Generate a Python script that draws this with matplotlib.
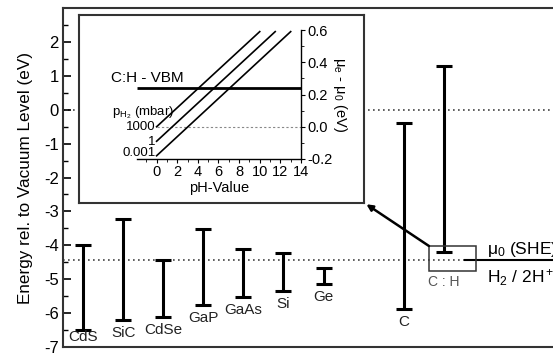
import matplotlib
matplotlib.use('Agg')
import matplotlib.pyplot as plt
from matplotlib.ticker import MultipleLocator
from matplotlib.patches import Rectangle

plt.rcParams['font.family'] = ['Liberation Sans', 'DejaVu Sans']
plt.rcParams['mathtext.fontset'] = 'custom'
plt.rcParams['mathtext.rm'] = 'Liberation Sans'
plt.rcParams['mathtext.it'] = 'Liberation Sans:italic'
plt.rcParams['mathtext.default'] = 'regular'

# ---- data ----
materials = ['CdS', 'SiC', 'CdSe', 'GaP', 'GaAs', 'Si', 'Ge', 'C', 'C:H']
cb_edge = [-4.0, -3.23, -4.42, -3.52, -4.11, -4.23, -4.67, -0.40, 1.28]
vb_edge = [-6.5, -6.2, -6.11, -5.76, -5.52, -5.35, -5.14, -5.88, -4.2]
she_level = -4.44
vacuum_level = 0.0
energy_ticks = [-7, -6, -5, -4, -3, -2, -1, 0, 1, 2, 3]
energy_ticklabels = ['-7', '-6', '-5', '-4', '-3', '-2', '-1', '0', '1', '2', '']

# inset: electrochemical potential vs pH for several H2 pressures
pressure_labels = ['1000', '1', '0.001']
ph_start = [0.0, 0.0, 0.0]
ph_end = [10.0, 11.5, 13.0]
mu_start = [0.0, -0.09, -0.18]
mu_end = [0.59, 0.59, 0.59]
vbm_level = 0.24
ph_ticks = [0, 2, 4, 6, 8, 10, 12, 14]
mu_ticks = [-0.2, 0.0, 0.2, 0.4, 0.6]
mu_ticklabels = ['-0.2', '0.0', '0.2', '0.4', '0.6']

# ---- layout ----
xpos = [0, 1, 2, 3, 4, 5, 6, 8, 9]
W, H = 553, 354
fig = plt.figure(figsize=(W / 100, H / 100), dpi=100)
fig.patch.set_facecolor('white')

ax = fig.add_axes([63 / W, 7 / H, (566 - 63) / W, 339 / H])
ax.set_xlim(-0.5, 12.05)
for s in ax.spines.values():
    s.set_linewidth(1.5)
    s.set_color('#333333')
ax.set_xticks([])
ax.set_yticks(energy_ticks)
ax.set_yticklabels(energy_ticklabels)
ax.yaxis.set_minor_locator(MultipleLocator(0.5))
ax.tick_params(axis='y', which='major', direction='in', length=6, width=1.2,
               labelsize=12, pad=3)
ax.tick_params(axis='y', which='minor', direction='in', length=3.5, width=1.0)
ax.set_ylim(-7, 3)
ax.set_ylabel('Energy rel. to Vacuum Level (eV)', fontsize=12.3, labelpad=8)

# reference levels
ax.axhline(vacuum_level, color='#444444', lw=1.2, ls=(0, (1, 2)), zorder=1)
ax.axhline(she_level, color='#444444', lw=1.2, ls=(0, (1, 2)), zorder=1)
ax.hlines(she_level, 9.5, 12.05, color='black', lw=1.5, zorder=2)

# band edges as bars
n = len(materials)
ax.errorbar(xpos, vb_edge,
            yerr=[[0] * n, [t - b for t, b in zip(cb_edge, vb_edge)]],
            fmt='none', ecolor='black', elinewidth=2.2, capsize=6, capthick=2.2,
            zorder=3)

for x, name, b in zip(xpos[:-1], materials[:-1], vb_edge[:-1]):
    ax.text(x, max(b - 0.38, -6.7), name, ha='center', va='center',
            fontsize=11, color='#222222')

# C:H box, label and arrow to the inset
ax.add_patch(Rectangle((8.625, -4.76), 1.175, 0.74, fill=False, lw=1.1,
                       ec='#333333', zorder=3))
ax.text(9.0, -5.08, 'C : H', ha='center', va='center', fontsize=10,
        color='#555555')
ax.annotate('', xy=(7.07, -2.79), xytext=(8.63, -4.02),
            arrowprops=dict(arrowstyle='-|>', color='black', lw=1.8,
                            mutation_scale=9, shrinkA=0, shrinkB=0))
ax.text(10.08, -4.12, 'μ$_0$ (SHE)', ha='left', va='center', fontsize=12.5)
ax.text(10.08, -4.94, 'H$_2$ / 2H$^+$', ha='left', va='center', fontsize=12.5)

# ---- inset frame ----
box = fig.add_axes([79 / W, (H - 203) / H, 285 / W, 188 / H], zorder=5)
box.set_xticks([])
box.set_yticks([])
box.set_facecolor('white')
for s in box.spines.values():
    s.set_linewidth(1.5)
    s.set_color('#333333')

# ---- inset plot ----
ins = fig.add_axes([137 / W, (H - 159) / H, 164 / W, 129 / H], zorder=6)
ins.set_facecolor('none')
ins.set_xlim(-1.9, 14)
ins.set_ylim(-0.2, 0.6)
ins.spines['left'].set_visible(False)
ins.spines['top'].set_visible(False)
ins.spines['bottom'].set_linewidth(1.0)
ins.spines['right'].set_linewidth(1.0)
ins.yaxis.tick_right()
ins.yaxis.set_label_position('right')
ins.set_xticks(ph_ticks)
ins.xaxis.set_minor_locator(MultipleLocator(1))
ins.set_yticks(mu_ticks)
ins.yaxis.set_minor_locator(MultipleLocator(0.1))
ins.set_yticklabels(mu_ticklabels)
ins.tick_params(which='major', direction='out', length=3, width=0.8,
                labelsize=10.5, pad=1.5)
ins.tick_params(which='minor', direction='out', length=2, width=0.6)
ins.set_xlabel('pH-Value', fontsize=10.5, labelpad=1)
ins.set_ylabel('μ$_e$ - μ$_0$ (eV)', fontsize=10.5, rotation=270, labelpad=12)

ins.hlines(0.0, 0, 14, color='#888888', lw=0.8, ls=(0, (2, 2)))
ins.hlines(vbm_level, -1.9, 14, color='black', lw=2.0)
for x0, x1, y0, y1 in zip(ph_start, ph_end, mu_start, mu_end):
    ins.plot([x0, x1], [y0, y1], color='black', lw=1.2)

ins.text(-4.4, 0.30, 'C:H - VBM', ha='left', va='center', fontsize=11)
ins.text(-4.35, 0.085, 'p$_{H_2}$ (mbar)', ha='left', va='center', fontsize=9.5)
label_y = [0.0, -0.095, -0.165]
for lab, yy in zip(pressure_labels, label_y):
    ins.text(-0.1, yy, lab, ha='right', va='center', fontsize=9.5)

fig.savefig('out.png', dpi=100, facecolor='white')
